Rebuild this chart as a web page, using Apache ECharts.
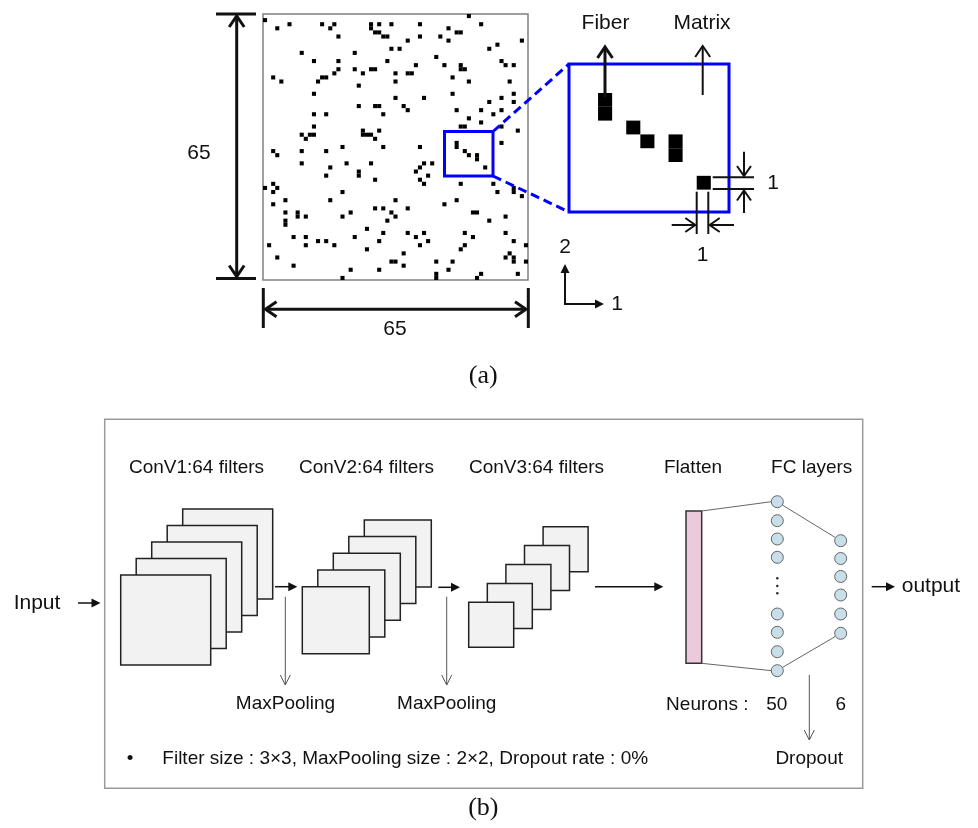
<!DOCTYPE html>
<html><head><meta charset="utf-8">
<script src="https://cdn.jsdelivr.net/npm/echarts@6/dist/echarts.min.js"></script>
<style>html,body{margin:0;padding:0;background:#fff}#chart{width:978px;height:828px}</style>
</head><body><div id="chart"></div>
<script>
// ---------- data ----------
const gridSize = 65;
// fiber cells [column, row] of the 65x65 microstructure (row 0 at top)
const fiberCells = [
 [0,1],[3,3],[6,2],[14,2],[16,3],[17,2],[18,5],[26,2],[26,3],[28,2],[31,2],[27,4],[28,4],[29,5],[30,5],[31,8],[9,9],[22,9],[12,11],[18,11],[30,11],[18,13],[17,14],[22,13],[24,14],[26,13],[27,13],[32,14],[2,15],[4,16],[13,16],[14,15],[15,15],[23,17],[32,16],[12,19],[32,20],[23,22],[27,22],[28,22],[12,24],[15,24],[29,24],[12,27],[24,28],[24,29],[25,29],[26,29],[27,30],[28,28],[9,29],[10,30],[11,29],[12,29],
 [50,0],[38,2],[45,3],[53,2],[38,5],[43,5],[45,6],[47,4],[48,4],[35,6],[33,8],[63,6],[55,8],[57,7],[42,10],[37,12],[44,12],[48,12],[48,13],[49,13],[58,11],[59,12],[61,12],[35,14],[36,14],[46,15],[50,16],[60,16],[39,20],[46,19],[34,22],[35,23],[55,21],[58,20],[61,19],[61,21],[47,23],[53,23],[58,23],[56,24],[50,25],[53,26],[48,27],[49,27],[58,27],[62,28],[58,31],
 [2,33],[3,34],[9,33],[15,33],[19,32],[29,32],[9,36],[16,37],[15,39],[20,36],[23,38],[23,39],[26,36],[27,40],[0,42],[2,41],[3,42],[2,43],[5,45],[2,46],[16,45],[19,43],[32,45],[5,48],[8,48],[8,49],[10,49],[5,50],[5,51],[19,49],[21,48],[27,47],[29,47],[31,48],[32,49],[30,50],[25,52],[29,53],[7,54],[10,54],[22,54],[1,56],[10,56],[13,55],[15,55],[17,56],[28,55],[25,57],[3,59],[7,61],[21,62],[19,64],[28,62],[31,60],[32,60],
 [38,32],[47,31],[47,32],[49,33],[50,34],[52,34],[52,35],[54,37],[39,36],[41,36],[37,38],[38,37],[40,39],[38,40],[39,41],[48,41],[56,41],[57,43],[61,42],[61,43],[63,44],[35,47],[44,46],[47,45],[51,48],[52,48],[55,50],[59,49],[35,53],[37,54],[39,53],[38,56],[40,55],[49,53],[51,54],[49,56],[48,57],[59,53],[61,55],[64,56],[34,58],[60,58],[59,59],[61,59],[61,60],[64,60],[34,61],[42,60],[46,60],[45,62],[42,63],[42,64],[52,64],[53,63],[62,63]
];
// zoomed window (cells) shown in the inset
const insetCols = [44.94, 56.29];
const insetRows = [28.9, 39.62];
const dimLabels = ['65', '65', '1', '1'];
const axisLabels = ['1', '2'];
const arrowLabels = ['Fiber', 'Matrix'];
const convLabels = ['ConV1:64 filters', 'ConV2:64 filters', 'ConV3:64 filters'];
const neuronCounts = [50, 6];
const noteText = 'Filter size : 3\u00d73, MaxPooling size : 2\u00d72, Dropout rate : 0%';

// ---------- drawing helpers ----------
const SANS = '"Liberation Sans", Arial, Helvetica, sans-serif';
const SERIF = '"Liberation Serif", "Times New Roman", serif';
const INK = '#111';
const G = [];
function txt(s, x, y, size, o) {
  o = o || {};
  const al = o.align || 'center';
  G.push({type:'text', z:20, silent:true, style:{text:s, x:x, y:y, font:size+'px '+(o.family||SANS),
    fill:o.color||INK, textAlign:al, align:al, textVerticalAlign:'middle', verticalAlign:'middle'}});
}
function ln(x1,y1,x2,y2,w,c,dash) {
  const st = {stroke:c||INK, lineWidth:w};
  if (dash) st.lineDash = dash;
  G.push({type:'line', z:15, silent:true, shape:{x1:x1,y1:y1,x2:x2,y2:y2}, style:st});
}
function arrow(x1,y1,x2,y2,o) {
  const w=o.w||1.5, c=o.c||INK, L=o.len||9, H=o.half||4.5;
  const a=Math.atan2(y2-y1,x2-x1);
  const bx=x2-L*Math.cos(a), by=y2-L*Math.sin(a);
  const px=-Math.sin(a)*H, py=Math.cos(a)*H;
  if (o.filled) {
    ln(x1,y1,bx+Math.cos(a)*1,by+Math.sin(a)*1,w,c);
    G.push({type:'polygon', z:16, silent:true, shape:{points:[[x2,y2],[bx+px,by+py],[bx-px,by-py]]}, style:{fill:c}});
  } else {
    ln(x1,y1,x2,y2,w,c);
    G.push({type:'polyline', z:16, silent:true, shape:{points:[[bx+px,by+py],[x2,y2],[bx-px,by-py]]}, style:{stroke:c, lineWidth:w, fill:null}});
  }
}
function rect(x,y,w,h,fill,stroke,lw,z) {
  G.push({type:'rect', z:z||12, silent:true, shape:{x:x,y:y,width:w,height:h}, style:{fill:fill, stroke:stroke, lineWidth:lw}});
}
function circ(cx,cy,r,fill,stroke,lw) {
  G.push({type:'circle', z:18, silent:true, shape:{cx:cx,cy:cy,r:r}, style:{fill:fill, stroke:stroke, lineWidth:lw}});
}

// ---------- part (a) annotations ----------
// vertical 65 dimension
ln(216,14,256,14,3); ln(216,278.5,256,278.5,3);
arrow(236.7,146,236.7,16,{w:3,len:11,half:7.5});
arrow(236.7,146,236.7,276.5,{w:3,len:11,half:7.5});
txt(dimLabels[0],199,153,21);
// horizontal 65 dimension
ln(263.3,288,263.3,328,3); ln(528.3,288,528.3,328,3);
arrow(396,309.3,265.5,309.3,{w:3,len:11,half:7.5});
arrow(396,309.3,526,309.3,{w:3,len:11,half:7.5});
txt(dimLabels[1],395,329,21);
// axis indicator
arrow(565,304,565,264,{w:2,filled:true,len:9,half:4.5});
arrow(564,304,604,304,{w:2,filled:true,len:9,half:4.5});
txt(axisLabels[1],565,247,21);
txt(axisLabels[0],617,304,21);
// small box + dashed connectors
rect(444.5,131.5,48.5,44.5,null,'#0000ff',3,14);
ln(493,131.5,569,64,3,'#0000ff',[9,5]);
ln(493,176,569,212,3,'#0000ff',[9,5]);
// Fiber / Matrix arrows
txt(arrowLabels[0],605.5,23,21);
arrow(605,97,605,47,{w:3,len:11,half:7.5});
txt(arrowLabels[1],702,23,21);
arrow(702.7,95,702.7,46,{w:2,len:11,half:7.5});
// unit cell dimension
ln(712.7,177.3,754,177.3,2); ln(712.7,189,754,189,2);
arrow(744,151.7,744,176,{w:2,len:10,half:7});
arrow(744,213,744,190.5,{w:2,len:10,half:7});
txt(dimLabels[2],773,183,21);
ln(696.7,191.7,696.7,234,2); ln(708.3,191.7,708.3,234,2);
arrow(671.7,225,695.3,225,{w:2,len:10,half:7});
arrow(734,225,709.7,225,{w:2,len:10,half:7});
txt(dimLabels[3],702.7,255,21);
txt('(a)',483.3,376,26,{family:SERIF});

// ---------- part (b) CNN diagram ----------
rect(104.7,419.3,758,369,null,'#9a9a9a',1.5,5);
txt(convLabels[0],196.5,468,19);
txt(convLabels[1],366.5,468,19);
txt(convLabels[2],536.5,468,19);
function stack(x0,y0,size,dx,dy,n) {
  for (let i=n-1;i>=0;i--) rect(x0+dx*i, y0+dy*i, size, size, '#f2f2f2', '#222', 1.5, 12+(n-i));
}
stack(120.7,575,90,15.5,-16.5,5);
stack(302.3,586.7,67,15.5,-16.7,5);
stack(468.7,602.3,45,18.6,-18.9,5);
txt('Input',37,603,21);
arrow(78,603,100.5,603,{filled:true,w:1.5,len:9,half:4.5});
arrow(275,586.7,297.3,586.7,{filled:true,w:1.5,len:9,half:4.5});
arrow(438.3,587.3,460,587.3,{filled:true,w:1.5,len:9,half:4.5});
arrow(595,586.7,663.3,586.7,{filled:true,w:1.5,len:9,half:4.5});
arrow(871.7,586.7,895,586.7,{filled:true,w:1.5,len:9,half:4.5});
txt('output',901.7,586.7,21,{align:'left'});
arrow(285.3,596.7,285.3,685,{w:1,c:'#555',len:10,half:5});
arrow(446.7,596.7,446.7,685,{w:1,c:'#555',len:10,half:5});
txt('MaxPooling',285.5,703.3,19);
txt('MaxPooling',446.7,703.3,19);
// flatten + FC
txt('Flatten',693,468,19);
txt('FC layers',811.7,468,19);
rect(686,511,15.7,152.3,'#ecc9dc','#333',1.5,12);
const fc1Y = [501.7,520.7,539,557.3,614,632.3,651.7,670.7];
const fc2Y = [540.7,558.5,576.5,595,614,633.3];
ln(701.7,511,771.5,501.7,1,'#666');
ln(701.7,663.3,771.5,670.7,1,'#666');
ln(782.3,505,835.3,537.5,1,'#666');
ln(782.3,667.5,835.3,636.5,1,'#666');
fc1Y.forEach(y => circ(777.3,y,6,'#c8dfe9','#666',1));
fc2Y.forEach(y => circ(840.7,y,6,'#c8dfe9','#666',1));
[578.3,586,593.3].forEach(y => circ(777.3,y,1.2,'#222',null,0));
txt('Neurons :',707.3,705,19);
txt(String(neuronCounts[0]),776.7,705,19);
txt(String(neuronCounts[1]),840.7,705,19);
arrow(809.3,675,809.3,740,{w:1,c:'#555',len:10,half:5});
txt('Dropout',809.2,758.3,19);
txt('\u2022',130,758.3,19);
txt(noteText,162.3,758.3,19,{align:'left'});
txt('(b)',483.3,808,26,{family:SERIF});

// ---------- chart ----------
function cellRender(params, api) {
  const c = api.value(0), r = api.value(1);
  const p0 = api.coord([c, r]);
  const p1 = api.coord([c + 1, r + 1]);
  return {type:'rect', shape:{x:Math.min(p0[0],p1[0]), y:Math.min(p0[1],p1[1]),
    width:Math.abs(p1[0]-p0[0]), height:Math.abs(p1[1]-p0[1])}, style:{fill:'#000'}};
}
const insetCells = fiberCells.filter(d => d[0]+1 > insetCols[0] && d[0] < insetCols[1] && d[1]+1 > insetRows[0] && d[1] < insetRows[1]);

const chart = echarts.init(document.getElementById('chart'), null, {renderer:'canvas'});
chart.setOption({
  animation:false,
  backgroundColor:'#fff',
  grid:[
    {left:263, top:14, width:265, height:266, show:true, borderColor:'#808080', borderWidth:1.5, backgroundColor:'transparent'},
    {left:569, top:64, width:160, height:148, show:true, borderColor:'#0000ff', borderWidth:3, backgroundColor:'transparent'}
  ],
  xAxis:[
    {type:'value', gridIndex:0, min:0, max:gridSize, show:false},
    {type:'value', gridIndex:1, min:insetCols[0], max:insetCols[1], show:false}
  ],
  yAxis:[
    {type:'value', gridIndex:0, min:0, max:gridSize, inverse:true, show:false},
    {type:'value', gridIndex:1, min:insetRows[0], max:insetRows[1], inverse:true, show:false}
  ],
  series:[
    {type:'custom', xAxisIndex:0, yAxisIndex:0, data:fiberCells, renderItem:cellRender, silent:true, clip:true},
    {type:'custom', xAxisIndex:1, yAxisIndex:1, data:insetCells, renderItem:cellRender, silent:true, clip:true}
  ],
  graphic:{elements:G}
});
</script>
</body></html>
